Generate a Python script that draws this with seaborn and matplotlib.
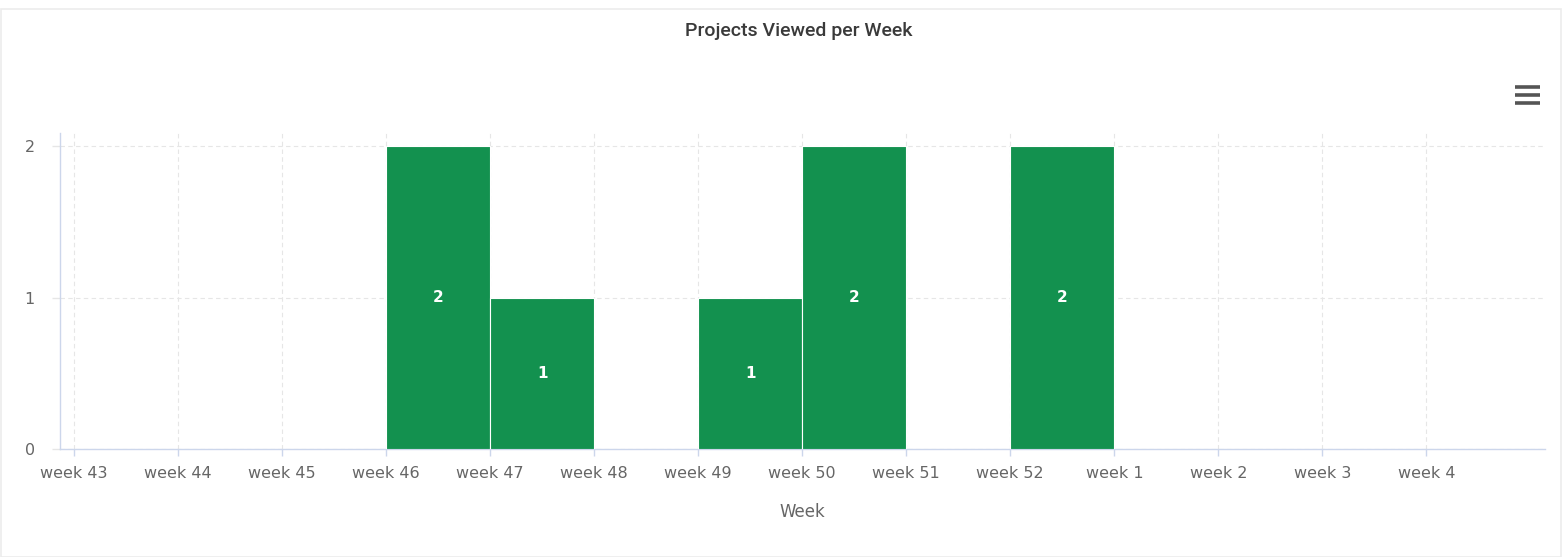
import matplotlib
matplotlib.use("Agg")
import matplotlib.pyplot as plt
from matplotlib.lines import Line2D
from matplotlib.patches import Rectangle
import seaborn as sns
import pandas as pd

weeks = ["week 43", "week 44", "week 45", "week 46", "week 47", "week 48", "week 49",
         "week 50", "week 51", "week 52", "week 1", "week 2", "week 3", "week 4"]
views = [0, 0, 0, 2, 1, 0, 1, 2, 0, 2, 0, 0, 0, 0]
y_ticks = [0, 1, 2]

BAR = "#13914f"
AXIS = "#ccd6eb"
GRID = "#e6e6e6"
TEXT = "#666666"

sns.set_theme(style="white")
plt.rcParams["font.family"] = ["DejaVu Sans"]

df = pd.DataFrame({"week": weeks, "views": views})

fig = plt.figure(figsize=(15.62, 5.57), dpi=100)
ax = fig.add_axes([60 / 1562, 1 - 449 / 557, (1545 - 60) / 1562, (449 - 133) / 557])

sns.barplot(data=df, x="week", y="views", order=weeks, color=BAR, saturation=1,
            width=1.0, edgecolor="white", linewidth=0.8, ax=ax, zorder=3)

# week labels sit on the bin edges, each bar fills the span to the next label
edges = [i - 0.5 for i in range(len(weeks))]
ax.set_xticks(edges)
ax.set_xticklabels(weeks)
ax.set_xlim(-0.635, 13.64)
ax.set_ylim(0, 2.086)
ax.set_yticks(y_ticks)
ax.set_yticklabels([str(v) for v in y_ticks])

for i, v in enumerate(views):
    if v > 0:
        ax.text(i, v / 2, str(v), ha="center", va="center", color="white",
                fontsize=11, fontweight="bold", zorder=4)

ax.grid(True, axis="both", color=GRID, linestyle=(0, (4, 3)), linewidth=0.8, zorder=0)
for side in ("top", "right"):
    ax.spines[side].set_visible(False)
for side in ("left", "bottom"):
    ax.spines[side].set_color(AXIS)
    ax.spines[side].set_linewidth(1.0)

ax.tick_params(axis="x", length=5, width=1, color=AXIS, colors=TEXT, labelsize=11.5, pad=7)
ax.tick_params(axis="y", length=6, width=1, color=GRID, colors=TEXT, labelsize=11.5, pad=12)
ax.tick_params(axis="x", which="both", bottom=True)
ax.tick_params(axis="y", which="both", left=True)

ax.set_xlabel("Week", color=TEXT, fontsize=12, labelpad=16)
ax.set_ylabel("")

fig.text(799 / 1562, 1 - 31 / 557, "Projects Viewed per Week", ha="center", va="center",
         fontsize=14, color="#3a3a3a", fontweight="medium",
         family=["Roboto", "DejaVu Sans"])

# menu button
for yy in (87, 95, 103):
    fig.add_artist(Line2D([1515 / 1562, 1540 / 1562], [1 - yy / 557] * 2,
                          color="#555555", linewidth=2.6, solid_capstyle="butt"))

# chart container frame
fig.add_artist(Rectangle((1 / 1562, 0), 1 - 2 / 1562, 1 - 9 / 557, transform=fig.transFigure,
                         fill=False, edgecolor="#ececec", linewidth=1.2))

fig.savefig("out.png", dpi=100, facecolor="white")
